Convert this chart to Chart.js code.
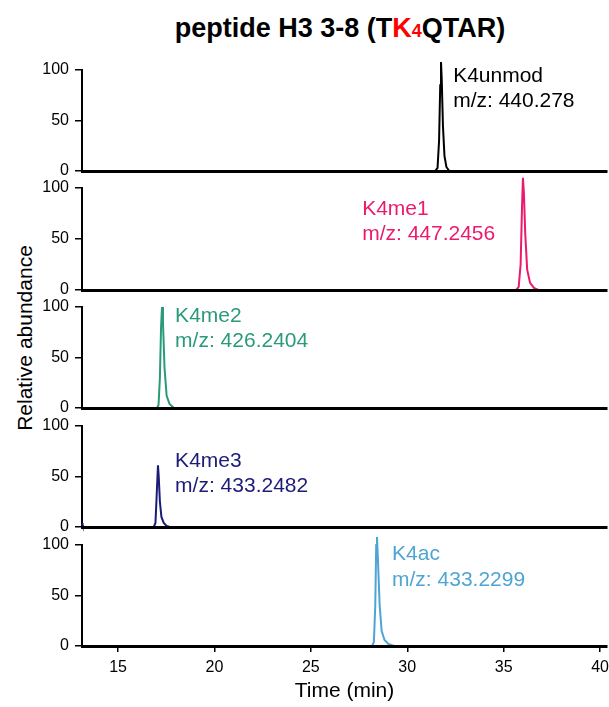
<!DOCTYPE html>
<html lang="en">
<head>
<meta charset="UTF-8">
<title>peptide H3 3-8 (TK4QTAR)</title>
<script src="https://cdn.jsdelivr.net/npm/chart.js@4.4.0/dist/chart.umd.min.js"></script>
<style>
  body { margin: 0; background: #fff; font-family: "Liberation Sans", Arial, sans-serif; }
  #wrap { position: relative; width: 609px; height: 707px; overflow: hidden; }
  .panel { position: absolute; left: 0; width: 609px; }
  #title { position: absolute; left: 0; top: 13px; width: 680px; text-align: center;
           font-weight: bold; font-size: 27px; color: #000; white-space: nowrap; }
  #title .red { color: #ff0000; }
  #title sub { font-size: 18px; vertical-align: baseline; }
  #ylab { position: absolute; left: 25px; top: 338px; transform: translate(-50%, -50%) rotate(-90deg);
          font-size: 21px; white-space: nowrap; color: #000; }
</style>
</head>
<body>
<div id="wrap">
  <div id="title">peptide H3 3-8 (T<span class="red">K<sub>4</sub></span>QTAR)</div>
  <div id="ylab">Relative abundance</div>
  <div class="panel" id="p0"><canvas id="c0"></canvas></div>
  <div class="panel" id="p1"><canvas id="c1"></canvas></div>
  <div class="panel" id="p2"><canvas id="c2"></canvas></div>
  <div class="panel" id="p3"><canvas id="c3"></canvas></div>
  <div class="panel" id="p4"><canvas id="c4"></canvas></div>
</div>
<script>
// axis ranges and ticks
const timeMin = 13.13;
const timeMax = 40.36;
const timeTicks = [15, 20, 25, 30, 35, 40];
const abundTicks = [0, 50, 100];

// extracted ion chromatograms (time in min, relative abundance)
const unmodTime  = [13.13, 31.45, 31.57, 31.65, 31.71, 31.75, 31.79, 31.85, 31.93, 32.03, 32.18, 40.36];
const unmodAbund = [0, 0, 3, 30, 85, 108, 90, 45, 15, 4, 0, 0];

const me1Time  = [13.13, 35.65, 35.78, 35.88, 35.95, 36.0, 36.05, 36.12, 36.22, 36.37, 36.57, 36.8, 40.36];
const me1Abund = [0, 0, 3, 25, 80, 110, 95, 55, 20, 7, 2, 0, 0];

const me2Time  = [13.13, 17.02, 17.1, 17.17, 17.23, 17.28, 17.33, 17.41, 17.52, 17.67, 17.9, 40.36];
const me2Abund = [0, 0, 3, 30, 80, 100, 85, 40, 12, 4, 0, 0];

const me3Time  = [13.13, 13.16, 13.22, 13.3, 16.85, 16.94, 17.0, 17.07, 17.11, 17.17, 17.25, 17.37, 17.52, 17.68, 40.36];
const me3Abund = [4, 2, 0, 0, 0, 4, 30, 61, 50, 25, 10, 4, 1, 0, 0];

const acTime  = [13.13, 28.18, 28.27, 28.34, 28.39, 28.43, 28.49, 28.57, 28.67, 28.82, 29.02, 29.32, 40.36];
const acAbund = [0, 0, 4, 40, 100, 108, 80, 40, 15, 6, 2, 0, 0];

const panels = [
  { name: 'K4unmod', mz: 'm/z: 440.278',  color: '#000000', time: unmodTime, abund: unmodAbund,
    top: 70,  bottom: 171, lab: [32.38, 94, 69] },
  { name: 'K4me1',   mz: 'm/z: 447.2456', color: '#ec1a6e', time: me1Time,   abund: me1Abund,
    top: 188, bottom: 290, lab: [27.66, 79, 55] },
  { name: 'K4me2',   mz: 'm/z: 426.2404', color: '#2a9a7a', time: me2Time,   abund: me2Abund,
    top: 307, bottom: 408, lab: [17.96, 91, 66] },
  { name: 'K4me3',   mz: 'm/z: 433.2482', color: '#1b1b78', time: me3Time,   abund: me3Abund,
    top: 426, bottom: 527, lab: [17.96, 65, 40.5] },
  { name: 'K4ac',    mz: 'm/z: 433.2299', color: '#4ea5d4', time: acTime,    abund: acAbund,
    top: 545, bottom: 646, lab: [29.21, 90.5, 65] }
];

const FONT = '"Liberation Sans", Arial, sans-serif';

// draws the two-line label inside each panel at data coordinates
const peakLabel = {
  id: 'peakLabel',
  afterDatasetsDraw(chart, args, opts) {
    const {ctx, scales: {x, y}} = chart;
    ctx.save();
    ctx.fillStyle = opts.color;
    ctx.font = '21px ' + FONT;
    ctx.textAlign = 'left';
    ctx.textBaseline = 'middle';
    ctx.fillText(opts.line1, x.getPixelForValue(opts.at[0]), y.getPixelForValue(opts.at[1]));
    ctx.fillText(opts.line2, x.getPixelForValue(opts.at[0]), y.getPixelForValue(opts.at[2]));
    ctx.restore();
  }
};

const PAD_TOP = 15;

panels.forEach((p, i) => {
  const last = i === panels.length - 1;
  const xAxisH = last ? 60 : 14;
  const box = document.getElementById('p' + i);
  box.style.top = (p.top - PAD_TOP) + 'px';
  box.style.height = (PAD_TOP + (p.bottom - p.top) + xAxisH) + 'px';

  const pts = p.time.map((t, k) => ({x: t, y: p.abund[k]}));

  new Chart(document.getElementById('c' + i), {
    type: 'line',
    data: {
      datasets: [{
        data: pts,
        borderColor: p.color,
        borderWidth: 2,
        pointRadius: 0,
        tension: 0,
        fill: false,
        clip: false
      }]
    },
    plugins: [peakLabel],
    options: {
      responsive: true,
      maintainAspectRatio: false,
      animation: false,
      events: [],
      layout: { padding: { top: PAD_TOP, right: 2, left: 0, bottom: 0 } },
      plugins: {
        legend: { display: false },
        tooltip: { enabled: false },
        peakLabel: { color: p.color, line1: p.name, line2: p.mz, at: p.lab }
      },
      scales: {
        x: {
          type: 'linear',
          min: timeMin,
          max: timeMax,
          afterBuildTicks: s => { s.ticks = timeTicks.map(v => ({value: v})); },
          afterFit: s => { s.height = xAxisH; s.paddingLeft = 0; s.paddingRight = 0; },
          border: { display: true, color: '#000', width: 3, z: 1 },
          grid: { display: last, drawOnChartArea: false, drawTicks: true, tickLength: 6,
                  color: '#000', lineWidth: 1.5 },
          ticks: { display: last, color: '#000', font: { family: FONT, size: 16 }, padding: 6,
                   maxRotation: 0 },
          title: { display: last, text: 'Time (min)', color: '#000',
                   font: { family: FONT, size: 21 }, padding: { top: 0, bottom: 2 } }
        },
        y: {
          min: 0,
          max: 100,
          afterBuildTicks: s => { s.ticks = abundTicks.map(v => ({value: v})); },
          afterFit: s => { s.width = 82; s.paddingTop = 0; s.paddingBottom = 0; },
          border: { display: true, color: '#000', width: 2 },
          grid: { drawOnChartArea: false, drawTicks: true, tickLength: 7, color: '#000', lineWidth: 1.5 },
          ticks: { color: '#000', font: { family: FONT, size: 16 }, padding: 6 }
        }
      }
    }
  });
});
</script>
</body>
</html>
